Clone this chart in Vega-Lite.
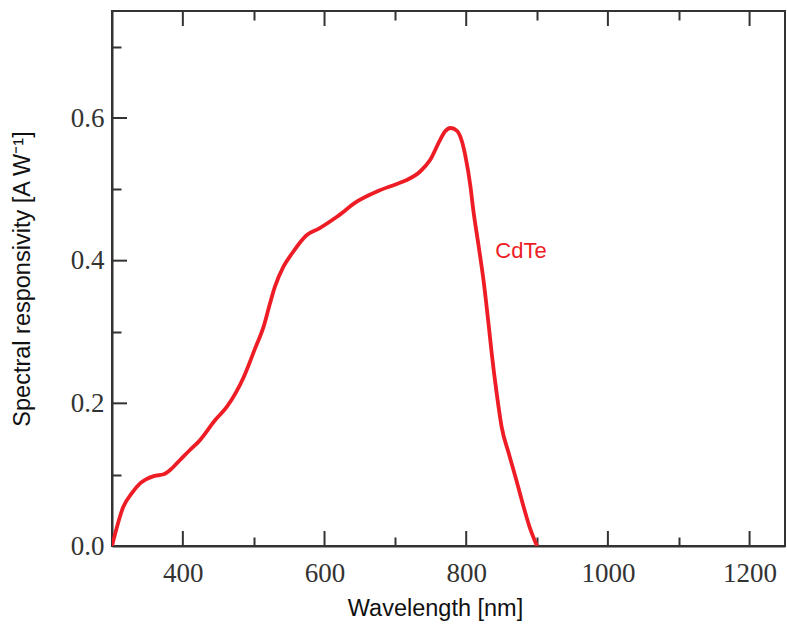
{
  "$schema": "https://vega.github.io/schema/vega-lite/v6.json",
  "width": 673,
  "height": 535,
  "autosize": "none",
  "padding": {"left": 112, "top": 11, "right": 2, "bottom": 78},
  "background": "white",
  "config": {
    "view": {"stroke": "#333", "strokeWidth": 2}
  },
  "datasets": {
    "curve": [
      {"wavelength": 300, "resp": 0.0},
      {"wavelength": 316, "resp": 0.055},
      {"wavelength": 328, "resp": 0.074},
      {"wavelength": 340, "resp": 0.088},
      {"wavelength": 359, "resp": 0.098},
      {"wavelength": 373, "resp": 0.1005},
      {"wavelength": 382, "resp": 0.1065},
      {"wavelength": 396, "resp": 0.1206},
      {"wavelength": 410, "resp": 0.1346},
      {"wavelength": 422, "resp": 0.146},
      {"wavelength": 446, "resp": 0.177},
      {"wavelength": 462, "resp": 0.195},
      {"wavelength": 486, "resp": 0.237},
      {"wavelength": 502, "resp": 0.277},
      {"wavelength": 514, "resp": 0.3075},
      {"wavelength": 523, "resp": 0.34},
      {"wavelength": 530, "resp": 0.3635},
      {"wavelength": 542, "resp": 0.3916},
      {"wavelength": 554, "resp": 0.41},
      {"wavelength": 575, "resp": 0.436},
      {"wavelength": 592, "resp": 0.445},
      {"wavelength": 618, "resp": 0.462},
      {"wavelength": 646, "resp": 0.483},
      {"wavelength": 674, "resp": 0.497},
      {"wavelength": 702, "resp": 0.5075},
      {"wavelength": 716, "resp": 0.513},
      {"wavelength": 735, "resp": 0.525},
      {"wavelength": 749, "resp": 0.541},
      {"wavelength": 763, "resp": 0.569},
      {"wavelength": 770, "resp": 0.581},
      {"wavelength": 778, "resp": 0.586},
      {"wavelength": 787, "resp": 0.582},
      {"wavelength": 794, "resp": 0.567},
      {"wavelength": 799, "resp": 0.546},
      {"wavelength": 806, "resp": 0.504},
      {"wavelength": 810, "resp": 0.471},
      {"wavelength": 817, "resp": 0.424},
      {"wavelength": 825, "resp": 0.368},
      {"wavelength": 832, "resp": 0.307},
      {"wavelength": 836, "resp": 0.27},
      {"wavelength": 843, "resp": 0.214},
      {"wavelength": 850, "resp": 0.167},
      {"wavelength": 860, "resp": 0.13},
      {"wavelength": 872, "resp": 0.088},
      {"wavelength": 881, "resp": 0.055},
      {"wavelength": 890, "resp": 0.025},
      {"wavelength": 900, "resp": 0.0}
    ],
    "labels": [
      {"wavelength": 841, "resp": 0.404, "label": "CdTe"}
    ],
    "majorX": [
      {"wavelength": 400}, {"wavelength": 600}, {"wavelength": 800}, {"wavelength": 1000}, {"wavelength": 1200}
    ],
    "majorY": [
      {"resp": 0.2}, {"resp": 0.4}, {"resp": 0.6}
    ]
  },
  "layer": [
    {
      "data": {"name": "curve"},
      "mark": {"type": "line", "color": "#ee1c25", "strokeWidth": 3.8, "interpolate": "monotone", "clip": true},
      "encoding": {
        "x": {
          "field": "wavelength", "type": "quantitative",
          "scale": {"domain": [300, 1250], "nice": false, "zero": false},
          "axis": {
            "orient": "bottom",
            "values": [400, 600, 800, 1000, 1200],
            "format": "d",
            "ticks": false,
            "domainColor": "#333", "domainWidth": 2,
            "grid": false,
            "labelFont": "Liberation Serif", "labelFontSize": 27, "labelColor": "#333",
            "labelPadding": 14, "labelFlush": false, "labelOverlap": false,
            "title": "Wavelength [nm]",
            "titleFont": "Liberation Sans", "titleFontSize": 23.5, "titleFontWeight": "normal",
            "titleColor": "#111", "titlePadding": 10, "titleX": 323
          }
        },
        "y": {
          "field": "resp", "type": "quantitative",
          "scale": {"domain": [0, 0.75], "nice": false},
          "axis": {
            "orient": "left",
            "values": [0, 0.2, 0.4, 0.6],
            "format": ".1f",
            "ticks": false,
            "domainColor": "#333", "domainWidth": 2,
            "grid": false,
            "labelFont": "Liberation Serif", "labelFontSize": 27, "labelColor": "#333",
            "labelPadding": 8, "labelFlush": false, "labelOverlap": false,
            "title": "Spectral responsivity [A W⁻¹]",
            "titleFont": "Liberation Sans", "titleFontSize": 23.5, "titleFontWeight": "normal",
            "titleColor": "#111", "titlePadding": 36
          }
        }
      }
    },
    {
      "data": {"name": "labels"},
      "mark": {"type": "text", "color": "#ee1c25", "font": "Liberation Sans", "fontSize": 22, "align": "left", "baseline": "alphabetic"},
      "encoding": {
        "x": {
          "field": "wavelength", "type": "quantitative",
          "scale": {"domain": [300, 1250], "nice": false, "zero": false},
          "axis": {
            "orient": "top",
            "values": [500, 700, 900, 1100],
            "labels": false,
            "domain": false,
            "tickSize": -9,
            "tickColor": "#333", "tickWidth": 2,
            "grid": false,
            "title": null
          }
        },
        "y": {
          "field": "resp", "type": "quantitative",
          "scale": {"domain": [0, 0.75], "nice": false},
          "axis": {
            "orient": "left",
            "values": [0.1, 0.3, 0.5, 0.7],
            "labels": false,
            "domain": false,
            "tickSize": -9,
            "tickColor": "#333", "tickWidth": 2,
            "grid": false,
            "title": null
          }
        },
        "text": {"field": "label"}
      }
    },
    {
      "data": {"name": "labels"},
      "mark": {"type": "point", "opacity": 0},
      "encoding": {
        "x": {
          "field": "wavelength", "type": "quantitative",
          "scale": {"domain": [300, 1250], "nice": false, "zero": false},
          "axis": {
            "orient": "bottom",
            "values": [500, 700, 900, 1100],
            "labels": false,
            "domain": false,
            "tickSize": -9,
            "tickColor": "#333", "tickWidth": 2,
            "grid": false,
            "title": null
          }
        },
        "y": {
          "field": "resp", "type": "quantitative",
          "scale": {"domain": [0, 0.75], "nice": false},
          "axis": null
        }
      }
    },
    {
      "data": {"name": "majorX"},
      "mark": {"type": "rule", "color": "#333", "strokeWidth": 2},
      "encoding": {
        "x": {"field": "wavelength", "type": "quantitative", "scale": {"domain": [300, 1250], "nice": false, "zero": false}, "axis": null},
        "y": {"datum": 0, "type": "quantitative", "axis": null},
        "y2": {"datum": 0.021}
      }
    },
    {
      "data": {"name": "majorX"},
      "mark": {"type": "rule", "color": "#333", "strokeWidth": 2},
      "encoding": {
        "x": {"field": "wavelength", "type": "quantitative", "scale": {"domain": [300, 1250], "nice": false, "zero": false}, "axis": null},
        "y": {"datum": 0.75, "type": "quantitative", "axis": null},
        "y2": {"datum": 0.729}
      }
    },
    {
      "data": {"name": "majorY"},
      "mark": {"type": "rule", "color": "#333", "strokeWidth": 2},
      "encoding": {
        "y": {"field": "resp", "type": "quantitative", "scale": {"domain": [0, 0.75], "nice": false}, "axis": null},
        "x": {"datum": 300, "type": "quantitative", "axis": null},
        "x2": {"datum": 321.2}
      }
    }
  ],
  "resolve": {"axis": {"x": "independent", "y": "independent"}}
}
